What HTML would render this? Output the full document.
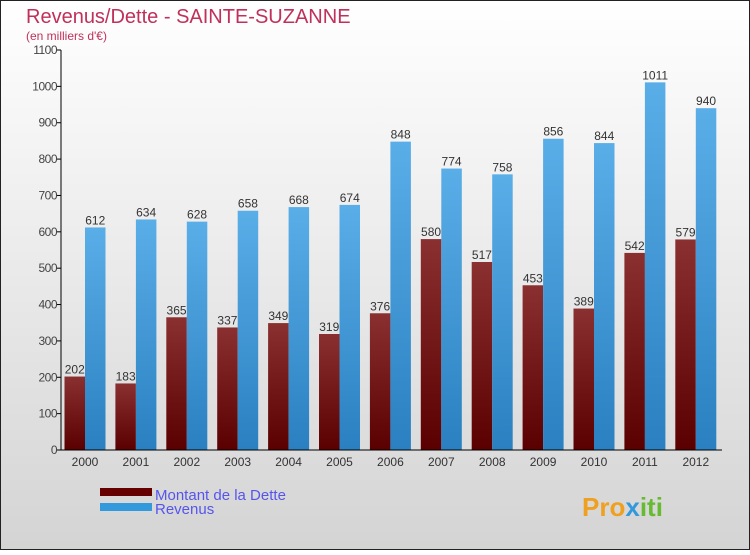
<!DOCTYPE html>
<html><head><meta charset="utf-8"><style>
body{margin:0;width:750px;height:550px;overflow:hidden;font-family:"Liberation Sans",sans-serif}
</style></head><body>
<svg id="c" width="750" height="550" xmlns="http://www.w3.org/2000/svg">
<defs>
<linearGradient id="bg" x1="0" y1="0" x2="0" y2="1"><stop offset="0" stop-color="#ffffff"/><stop offset="1" stop-color="#d4d4d4"/></linearGradient>
<linearGradient id="gd" x1="0" y1="0" x2="0" y2="1"><stop offset="0" stop-color="#8a3030"/><stop offset="1" stop-color="#5a0000"/></linearGradient>
<linearGradient id="gr" x1="0" y1="0" x2="0" y2="1"><stop offset="0" stop-color="#5aaee8"/><stop offset="1" stop-color="#2a80c0"/></linearGradient>
</defs>
<rect x="0.5" y="0.5" width="749" height="549" fill="url(#bg)" stroke="#222"/>
<text x="26" y="23" font-size="20" fill="#c0305a">Revenus/Dette - SAINTE-SUZANNE</text>
<text x="26" y="40" font-size="12" fill="#c0305a">(en milliers d'€)</text>
<g id="plot"></g>
<rect x="100" y="488" width="52" height="8" fill="#660000"/>
<rect x="100" y="503" width="52" height="8" fill="#3399dd"/>
<text x="155" y="500" font-size="15" fill="#5555ee">Montant de la Dette</text>
<text x="155" y="514" font-size="15" fill="#5555ee">Revenus</text>
<text x="582" y="516" font-size="26" font-weight="bold" fill="#f0a020">Pro<tspan fill="#3399dd">x</tspan><tspan fill="#66bb33">iti</tspan></text>
</svg>
<script>
const years=["2000","2001","2002","2003","2004","2005","2006","2007","2008","2009","2010","2011","2012"];
const dette=[202,183,365,337,349,319,376,580,517,453,389,542,579];
const revenus=[612,634,628,658,668,674,848,774,758,856,844,1011,940];
const ticks=[0,100,200,300,400,500,600,700,800,900,1000,1100];
const NS="http://www.w3.org/2000/svg";
const g=document.getElementById('plot');
const x0=61,y0=450,yTop=50,maxV=1100,step=50.9,first=85,bw=20.5;
const y=v=>y0-(v/maxV)*(y0-yTop);
const xc=i=>first+i*step;
function mk(t,a){const e=document.createElementNS(NS,t);for(const k in a)e.setAttribute(k,a[k]);g.appendChild(e);return e;}
ticks.forEach(t=>{
 const l=mk('line',{x1:x0-4,x2:x0,y1:y(t),y2:y(t),stroke:'#000'});
 
 
 const tx=mk('text',{x:x0-4,y:y(t)+4,'font-size':12,'text-anchor':'end',fill:'#444','letter-spacing':'-0.5'});
 tx.textContent=t;
 
 
});
years.forEach((yr,i)=>{
 const c=xc(i);
 const b1=mk('rect',{x:c-bw,y:y(dette[i]),width:bw,height:y0-y(dette[i]),fill:'url(#gd)'});
 
 
 const b2=mk('rect',{x:c,y:y(revenus[i]),width:bw,height:y0-y(revenus[i]),fill:'url(#gr)'});
 
 
 const t1=mk('text',{x:c-bw/2,y:y(dette[i])-3,'font-size':12,'text-anchor':'middle',fill:'#333'});
 t1.textContent=dette[i];
 
 
 const t2=mk('text',{x:c+bw/2,y:y(revenus[i])-3,'font-size':12,'text-anchor':'middle',fill:'#333'});
 t2.textContent=revenus[i];
 
 
 const xl=mk('text',{x:c,y:466,'font-size':12,'text-anchor':'middle',fill:'#333'});
 xl.textContent=yr;
 
 
});
const ya=mk('line',{x1:x0,x2:x0,y1:yTop,y2:y0,stroke:'#000'});


const xa=mk('line',{x1:x0,x2:722,y1:y0,y2:y0,stroke:'#000'});


</script>
</body></html>
